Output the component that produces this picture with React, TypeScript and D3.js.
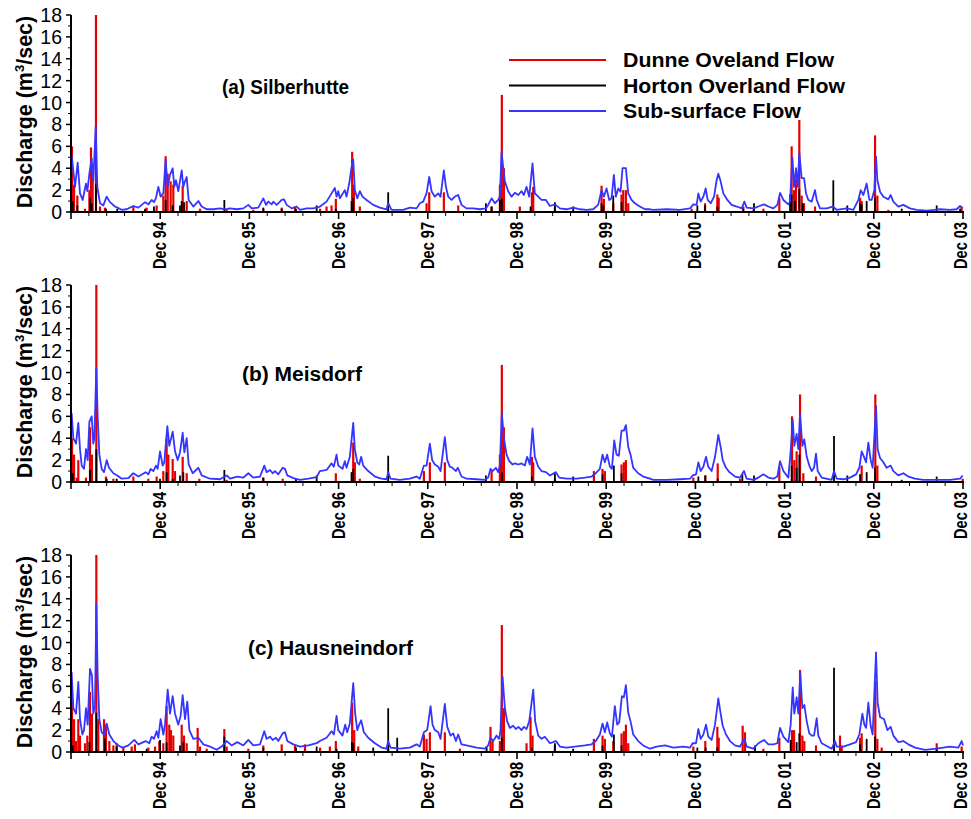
import React from 'react';
import * as d3 from 'd3';

// time axis: years after Dec 93 (1 = Dec 94 ... 10 = Dec 03), values in m3/sec
const yearLabels = ['Dec 94', 'Dec 95', 'Dec 96', 'Dec 97', 'Dec 98', 'Dec 99', 'Dec 00', 'Dec 01', 'Dec 02', 'Dec 03'];
const yTicks = [0, 2, 4, 6, 8, 10, 12, 14, 16, 18];
const seriesNames = ['Dunne Oveland Flow', 'Horton Overland Flow', 'Sub-surface Flow'];
const panelTitles = ['(a) Silberhutte', '(b) Meisdorf', '(c) Hausneindorf'];

const subA = [[0.007,5.2],[0.045,2.3],[0.075,4.5],[0.101,1.7],[0.131,1.1],[0.168,2.6],[0.183,1.9],[0.206,3.5],[0.232,4.9],[0.250,2.8],[0.277,7.8],[0.295,2.3],[0.325,0.8],[0.362,0.6],[0.400,1.4],[0.437,0.9],[0.493,0.5],[0.519,0.4],[0.568,0.2],[0.624,0.25],[0.699,0.55],[0.755,0.4],[0.830,0.9],[0.867,0.7],[0.904,1.1],[0.930,0.9],[0.953,1.3],[0.979,2.3],[1.005,1.4],[1.035,1.7],[1.061,4.8],[1.084,2.3],[1.110,3.4],[1.140,4.0],[1.158,2.3],[1.177,2.9],[1.203,1.9],[1.241,3.8],[1.259,2.3],[1.278,2.8],[1.297,3.2],[1.319,1.1],[1.371,0.5],[1.428,1.0],[1.465,0.5],[1.521,0.25],[1.596,0.25],[1.670,0.33],[1.726,0.25],[1.783,0.33],[1.857,0.25],[1.932,0.33],[1.988,0.65],[2.025,0.33],[2.100,0.4],[2.156,1.25],[2.186,0.65],[2.212,0.95],[2.250,0.7],[2.268,0.95],[2.306,0.65],[2.362,1.1],[2.388,1.15],[2.418,0.65],[2.474,0.33],[2.530,0.5],[2.567,0.2],[2.642,0.33],[2.717,0.33],[2.792,0.5],
  [2.865,0.95],[2.921,1.7],[2.958,2.2],[2.977,1.4],[2.996,1.9],[3.014,1.25],[3.070,2.0],[3.089,1.4],[3.119,2.6],[3.145,4.1],[3.164,4.8],[3.182,2.0],[3.209,1.25],[3.238,1.9],[3.268,1.4],[3.313,1.1],[3.388,0.65],[3.463,0.4],[3.537,0.25],[3.556,0.8],[3.593,0.2],[3.724,0.2],[3.799,0.4],[3.874,0.33],[3.911,0.8],[3.948,0.95],[3.986,1.7],[4.016,3.2],[4.042,1.9],[4.079,1.4],[4.117,1.7],[4.143,1.4],[4.180,3.8],[4.203,2.3],[4.229,1.4],[4.266,1.1],[4.303,1.4],[4.341,1.55],[4.378,0.65],[4.434,0.33],[4.509,0.33],[4.584,0.25],[4.651,0.33],[4.677,0.65],[4.715,1.25],[4.752,0.8],[4.789,1.1],[4.808,1.4],[4.827,5.5],[4.845,4.1],[4.864,2.8],[4.901,1.9],[4.939,1.4],[4.976,1.75],[5.014,1.55],[5.051,1.9],[5.077,1.55],[5.107,2.3],[5.137,1.4],[5.174,4.45],[5.200,1.7],[5.238,1.4],[5.275,1.1],[5.324,1.1],[5.369,0.55],[5.425,0.7],[5.481,0.33],[5.555,0.25],[5.630,0.4],[5.705,0.25],[5.780,0.2],[5.854,0.25],[5.910,0.65],[5.948,2.0],[5.974,1.4],[6.004,2.15],[6.034,1.1],[6.060,1.25],[6.086,3.4],[6.108,1.4],[6.135,2.15],[6.161,1.85],[6.183,4.0],[6.221,4.0],[6.247,1.7],[6.284,1.1],[6.321,0.8],[6.377,0.5],[6.434,0.25],[6.490,0.25],
  [6.528,0.2],[6.678,0.25],[6.827,0.2],[6.940,0.33],[6.977,0.7],[7.014,0.65],[7.033,1.7],[7.059,0.95],[7.089,1.4],[7.115,2.15],[7.138,1.1],[7.171,0.8],[7.209,1.4],[7.238,2.9],[7.257,3.5],[7.283,2.8],[7.313,1.7],[7.358,1.1],[7.407,0.65],[7.463,0.5],[7.519,0.33],[7.549,0.95],[7.575,0.4],[7.650,0.33],[7.706,0.5],[7.769,0.7],[7.818,0.5],[7.874,0.33],[7.919,0.65],[7.949,1.75],[7.986,1.1],[8.042,0.7],[8.061,0.95],[8.087,5.0],[8.106,2.3],[8.128,4.0],[8.147,2.3],[8.165,5.4],[8.191,3.1],[8.218,3.1],[8.240,1.7],[8.266,1.1],[8.304,0.95],[8.341,2.0],[8.360,1.1],[8.397,0.33],[8.472,0.33],[8.539,0.5],[8.584,0.2],[8.696,0.33],[8.771,0.2],[8.827,1.1],[8.853,2.0],[8.883,1.55],[8.920,2.6],[8.950,1.1],[8.976,1.1],[9.006,2.0],[9.025,5.06],[9.040,2.9],[9.070,1.85],[9.107,1.4],[9.163,1.15],[9.189,1.55],[9.219,0.95],[9.275,0.5],[9.331,0.65],[9.406,0.33],[9.481,0.2],[9.593,0.12],[9.686,0.2],[9.742,0.25],[9.854,0.2],[9.929,0.25],[9.967,0.55],[9.996,0.33]];

const dunneA = [[0.011,6.0],[0.034,2.5],[0.071,1.5],[0.157,0.3],[0.206,2.0],[0.224,5.9],[0.243,3.2],[0.280,18],[0.325,0.5],[0.381,0.4],[0.699,0.5],[0.848,0.4],[0.960,0.6],[1.035,1.5],[1.061,5.1],[1.084,3.5],[1.117,2.8],[1.147,2.5],[1.252,2.4],[1.297,1.0],[1.446,0.3],[1.745,0.2],[2.044,0.2],[2.156,0.3],[2.362,0.4],[2.511,0.5],[2.792,0.3],
  [2.865,0.5],[2.921,0.6],[2.969,1.2],[3.152,5.5],[3.171,2.5],[3.238,0.5],[3.556,0.2],[3.986,0.8],[4.016,1.8],[4.180,1.8],[4.341,0.6],[4.715,0.5],[4.808,2.5],[4.830,10.7],[4.853,4.0],[5.032,0.5],[5.167,1.8],[5.182,2.3],[5.425,0.4],[5.948,2.4],[5.974,1.2],[6.079,0.8],[6.172,1.6],[6.191,2.0],[6.221,2.0],[6.247,0.8],
  [6.958,0.3],[7.108,0.8],[7.246,1.6],[7.261,1.3],[7.537,0.5],[7.650,0.2],[7.762,0.3],[7.941,1.3],[8.079,6.0],[8.106,2.0],[8.128,3.0],[8.165,8.4],[8.191,1.5],[8.218,0.8],[8.341,0.5],[8.846,1.3],[8.864,1.0],[9.014,7.0],[9.040,1.5],[9.163,0.2],[9.985,0.5]];

const hortonA = [[0.019,1.0],[0.071,0.6],[0.213,1.3],[0.232,0.8],[0.280,2.6],[0.392,0.3],[0.519,0.3],[0.830,0.3],[0.930,0.5],[1.061,1.1],[1.140,0.6],[1.222,0.6],[1.241,1.0],[1.267,0.9],[1.719,1.1],[2.156,0.4],[2.362,0.3],[2.522,0.3],[2.754,0.6],
  [2.969,0.3],[3.145,1.0],[3.164,1.3],[3.556,1.8],[4.651,0.8],[4.715,0.5],[4.808,1.1],[4.830,1.2],[5.152,0.5],[5.425,0.9],[5.630,0.5],[5.948,0.8],[5.967,0.6],[6.079,1.5],[6.172,0.9],
  [7.022,0.6],[7.108,0.6],[7.246,0.5],[7.537,0.3],[7.657,0.8],[8.061,1.6],[8.079,1.6],[8.117,1.0],[8.165,2.1],[8.203,0.8],[8.546,2.9],[8.703,0.6],[8.846,0.8],[8.864,0.7],[8.920,1.0],[9.014,1.3],[9.313,0.3],[9.705,0.6],[9.967,0.3]];

const subB = [[0.007,6.3],[0.026,4.0],[0.056,3.5],[0.082,5.4],[0.101,3.0],[0.120,1.5],[0.146,1.2],[0.168,3.0],[0.187,2.0],[0.206,5.5],[0.232,6.0],[0.250,3.5],[0.262,4.0],[0.284,10.4],[0.299,6.0],[0.318,2.5],[0.344,1.2],[0.370,0.9],[0.400,2.0],[0.426,1.3],[0.475,0.8],[0.519,0.6],[0.568,0.3],[0.643,0.35],[0.699,0.8],[0.755,0.5],[0.837,0.9],[0.867,0.7],[0.893,1.2],[0.923,1.0],[0.953,1.5],[0.972,1.2],[0.998,2.8],[1.028,1.5],[1.046,1.8],[1.080,5.1],[1.102,3.3],[1.140,4.6],[1.166,2.8],[1.196,2.0],[1.222,2.7],[1.252,4.5],[1.271,2.7],[1.297,4.0],[1.319,1.6],[1.364,0.8],[1.428,1.3],[1.465,0.6],[1.558,0.3],[1.670,0.25],[1.745,0.6],[1.783,0.3],[1.865,0.5],[1.932,0.4],[1.988,0.8],[2.044,0.4],[2.119,0.5],[2.167,1.5],[2.193,0.9],[2.231,1.1],[2.261,0.8],[2.287,1.0],[2.324,0.7],[2.373,1.3],[2.399,1.2],[2.425,0.6],[2.493,0.35],[2.567,0.2],[2.661,0.3],[2.754,0.45],
  [2.79,1.0],[2.865,1.1],[2.921,1.7],[2.947,1.4],[2.977,2.5],[2.996,1.5],[3.044,1.2],[3.070,1.9],[3.089,1.3],[3.126,2.3],[3.164,5.4],[3.182,3.0],[3.209,1.8],[3.231,1.6],[3.253,2.3],[3.276,1.5],[3.332,1.0],[3.407,0.5],[3.481,0.3],[3.537,0.25],[3.556,0.9],[3.582,0.3],[3.687,0.2],[3.799,0.3],[3.874,0.5],[3.911,0.3],[3.956,1.5],[3.986,1.5],[4.023,3.5],[4.049,2.0],[4.079,1.6],[4.117,1.4],[4.143,1.0],[4.191,4.1],[4.218,2.0],[4.247,1.4],[4.277,1.3],[4.315,1.0],[4.337,1.3],[4.378,0.5],[4.434,0.3],[4.546,0.25],[4.640,0.2],[4.677,0.4],[4.703,1.2],[4.726,1.0],[4.763,1.3],[4.789,0.9],[4.808,1.5],[4.830,6.3],[4.853,4.0],[4.883,2.5],[4.913,1.9],[4.950,1.6],[4.976,1.7],[5.014,1.6],[5.051,1.7],[5.088,1.5],[5.114,2.3],[5.144,1.6],[5.174,4.9],[5.200,2.3],[5.238,1.4],[5.275,1.0],[5.324,0.9],[5.369,0.6],[5.436,0.9],[5.473,0.4],[5.555,0.3],[5.668,0.3],[5.761,0.4],[5.836,0.5],[5.884,0.8],[5.929,1.2],[5.959,2.5],[5.985,1.8],[6.011,2.5],[6.041,1.4],[6.064,1.2],[6.090,3.8],[6.116,2.5],[6.142,2.4],[6.172,4.7],[6.198,4.7],[6.221,5.2],[6.247,3.2],[6.273,2.5],[6.303,1.3],[6.359,0.8],[6.415,0.5],[6.490,0.3],
  [6.528,0.2],[6.678,0.2],[6.827,0.25],[6.940,0.3],[6.969,0.6],[7.007,0.7],[7.033,1.8],[7.059,1.0],[7.089,1.4],[7.119,2.3],[7.145,1.4],[7.182,1.0],[7.220,2.3],[7.257,4.3],[7.283,3.2],[7.306,2.0],[7.343,1.3],[7.381,0.9],[7.444,0.5],[7.500,0.4],[7.545,1.0],[7.575,0.3],[7.650,0.2],[7.706,0.4],[7.762,0.7],[7.818,0.4],[7.874,0.3],[7.919,0.5],[7.949,1.9],[7.986,1.0],[8.042,0.4],[8.068,2.8],[8.091,5.7],[8.109,3.3],[8.135,4.4],[8.154,3.0],[8.173,6.2],[8.199,3.3],[8.221,3.9],[8.248,2.3],[8.277,1.5],[8.304,1.0],[8.330,1.3],[8.352,2.6],[8.371,1.0],[8.416,0.4],[8.528,0.2],[8.554,1.0],[8.584,0.3],[8.659,0.25],[8.733,0.4],[8.801,0.7],[8.838,1.3],[8.864,2.8],[8.890,2.3],[8.913,1.8],[8.939,3.6],[8.965,2.0],[8.987,1.3],[9.025,6.95],[9.043,3.0],[9.070,2.2],[9.107,1.8],[9.144,1.3],[9.189,1.5],[9.219,1.0],[9.275,0.6],[9.331,0.8],[9.387,0.5],[9.462,0.3],[9.556,0.2],[9.705,0.2],[9.854,0.2],[9.967,0.3],[9.996,0.6]];

const dunneB = [[0.011,4.0],[0.034,2.5],[0.064,0.4],[0.082,2.0],[0.168,0.4],[0.213,5.0],[0.235,2.5],[0.284,18],[0.392,0.5],[0.475,0.3],[0.699,0.5],[0.867,0.3],[0.960,0.5],[1.035,1.0],[1.072,4.0],[1.091,2.5],[1.140,2.1],[1.166,1.0],[1.252,2.3],[1.297,0.8],[1.439,0.3],[1.745,0.2],[2.156,0.4],[2.373,0.3],
  [2.969,0.8],[3.164,3.6],[3.182,1.8],[3.238,0.3],[3.956,1.0],[4.023,1.8],[4.191,1.8],[4.715,1.0],[4.808,2.5],[4.830,10.7],[4.853,5.0],[5.167,2.3],[5.182,1.8],[5.425,0.3],[5.862,1.0],[5.959,1.2],[5.985,1.0],[6.172,1.6],[6.198,1.8],[6.221,2.0],
  [6.977,0.4],[7.111,0.6],[7.250,1.7],[7.500,0.3],[7.941,1.4],[8.083,6.0],[8.109,2.0],[8.135,2.8],[8.173,8.0],[8.210,0.8],[8.352,0.5],[8.864,1.5],[9.017,8.0],[9.040,1.5],[9.996,0.3]];

const hortonB = [[0.019,0.8],[0.213,1.1],[0.284,3.0],[0.400,0.3],[0.512,0.3],[0.998,0.3],[1.072,0.9],[1.140,0.3],[1.222,0.6],[1.259,0.9],[1.719,1.1],[2.156,0.4],[2.522,0.3],[2.754,0.6],
  [3.145,0.9],[3.164,1.2],[3.556,2.4],[4.651,0.6],[4.830,0.9],[5.167,0.5],[5.425,0.8],[5.630,0.5],[5.959,0.7],[6.086,1.5],[6.172,0.8],
  [7.033,0.5],[7.111,0.6],[7.250,0.3],[7.526,0.7],[7.657,0.6],[8.079,1.5],[8.135,1.3],[8.165,2.5],[8.554,4.2],[8.703,0.6],[8.846,0.7],[8.920,0.9],[9.014,1.3],[9.313,0.2],[9.705,0.5]];

const subC = [[0.007,7.3],[0.026,4.0],[0.056,3.5],[0.082,6.4],[0.101,3.0],[0.127,1.6],[0.146,2.0],[0.168,4.0],[0.187,2.5],[0.213,7.6],[0.235,7.0],[0.250,3.5],[0.269,4.2],[0.284,13.5],[0.299,7.0],[0.318,3.0],[0.344,1.8],[0.370,1.6],[0.400,2.6],[0.430,1.6],[0.475,1.0],[0.531,0.6],[0.579,0.4],[0.643,0.6],[0.710,1.1],[0.755,0.7],[0.837,1.0],[0.878,0.8],[0.904,1.4],[0.930,1.2],[0.960,1.9],[0.979,1.3],[1.005,3.0],[1.035,1.6],[1.054,2.5],[1.084,5.7],[1.110,3.5],[1.140,5.1],[1.166,3.5],[1.203,2.5],[1.229,3.3],[1.252,5.2],[1.278,3.0],[1.304,4.6],[1.327,2.0],[1.371,1.2],[1.428,1.3],[1.484,0.7],[1.558,0.5],[1.633,0.2],[1.689,0.5],[1.745,1.0],[1.801,0.6],[1.865,0.9],[1.932,0.6],[1.988,1.1],[2.044,0.6],[2.119,0.7],[2.167,1.9],[2.193,1.2],[2.231,1.4],[2.261,1.1],[2.298,1.3],[2.324,1.0],[2.373,1.7],[2.399,1.8],[2.425,1.0],[2.493,0.7],[2.567,0.5],[2.661,0.6],[2.754,0.8],
  [2.79,1.0],[2.865,1.3],[2.921,1.9],[2.947,1.6],[2.977,3.3],[2.996,2.0],[3.044,1.5],[3.074,2.5],[3.096,1.8],[3.126,2.6],[3.164,6.3],[3.186,3.5],[3.209,2.0],[3.231,2.5],[3.253,2.9],[3.283,1.8],[3.332,1.3],[3.407,0.8],[3.481,0.4],[3.537,0.3],[3.556,1.0],[3.582,0.4],[3.687,0.3],[3.799,0.4],[3.874,0.7],[3.911,0.5],[3.956,1.8],[3.993,2.0],[4.031,4.2],[4.053,2.5],[4.079,2.0],[4.117,1.8],[4.143,1.2],[4.191,4.4],[4.218,2.3],[4.255,1.5],[4.285,1.7],[4.315,1.0],[4.341,1.6],[4.378,0.7],[4.434,0.6],[4.546,0.4],[4.640,0.3],[4.677,0.6],[4.703,1.3],[4.733,1.0],[4.771,1.5],[4.800,1.2],[4.815,2.0],[4.838,6.9],[4.864,4.0],[4.890,2.8],[4.920,2.2],[4.957,2.4],[4.987,2.1],[5.017,2.3],[5.051,2.0],[5.077,2.3],[5.107,2.1],[5.137,2.8],[5.182,5.7],[5.204,2.8],[5.238,1.5],[5.275,1.2],[5.312,1.4],[5.369,0.8],[5.436,1.0],[5.481,0.5],[5.555,0.4],[5.649,0.5],[5.761,0.6],[5.836,0.7],[5.884,1.0],[5.929,1.6],[5.959,2.6],[5.985,1.8],[6.011,2.7],[6.041,1.7],[6.064,1.4],[6.097,4.2],[6.123,2.5],[6.146,2.7],[6.176,5.1],[6.198,5.0],[6.221,6.1],[6.247,3.6],[6.273,2.8],[6.303,1.6],[6.359,1.0],[6.415,0.6],[6.490,0.3],
  [6.528,0.4],[6.566,0.5],[6.659,0.6],[6.753,0.4],[6.865,0.5],[6.940,0.4],[6.969,0.8],[7.007,0.8],[7.033,2.1],[7.059,1.2],[7.089,1.6],[7.119,2.5],[7.145,1.4],[7.182,1.1],[7.220,2.5],[7.257,4.9],[7.283,3.5],[7.306,2.4],[7.343,1.6],[7.388,1.0],[7.444,0.6],[7.500,0.5],[7.549,1.2],[7.575,0.5],[7.650,0.3],[7.706,0.8],[7.769,1.1],[7.818,0.7],[7.874,0.7],[7.919,0.8],[7.949,2.2],[7.986,1.4],[8.042,0.9],[8.068,2.5],[8.091,5.9],[8.109,3.5],[8.135,5.0],[8.154,3.5],[8.176,7.2],[8.199,4.0],[8.221,4.3],[8.248,2.8],[8.277,1.7],[8.304,1.5],[8.330,1.5],[8.360,3.1],[8.378,1.5],[8.416,0.8],[8.528,0.3],[8.565,1.0],[8.584,0.5],[8.659,0.5],[8.733,0.7],[8.801,0.9],[8.838,1.6],[8.872,3.5],[8.894,2.5],[8.913,2.2],[8.939,4.5],[8.965,2.4],[8.987,1.6],[9.025,9.1],[9.043,4.5],[9.070,3.2],[9.115,3.0],[9.152,2.0],[9.189,2.3],[9.219,1.5],[9.275,0.9],[9.331,1.0],[9.387,0.7],[9.462,0.4],[9.574,0.2],[9.705,0.3],[9.780,0.4],[9.854,0.5],[9.948,0.4],[9.985,1.0],[10.0,0.6]];

const dunneC = [[0.011,5.0],[0.034,3.0],[0.056,1.0],[0.082,3.0],[0.101,1.5],[0.157,0.8],[0.183,1.5],[0.213,5.5],[0.235,3.5],[0.284,18],[0.306,3.0],[0.370,3.0],[0.392,2.5],[0.430,1.0],[0.475,0.6],[0.512,0.8],[0.587,0.4],[0.680,0.5],[0.717,0.7],[0.867,0.4],[0.942,0.5],[0.990,1.0],[1.035,0.8],[1.072,4.2],[1.102,2.5],[1.121,2.0],[1.147,1.5],[1.241,2.5],[1.267,1.5],[1.297,0.8],[1.420,2.2],[1.446,0.5],[1.521,0.3],[1.719,2.1],[1.745,0.5],[1.988,0.3],[2.156,0.6],[2.362,0.7],[2.511,0.6],[2.623,0.7],[2.792,0.4],
  [2.902,0.5],[2.969,1.0],[3.152,4.5],[3.175,2.0],[3.220,0.5],[3.556,0.3],[3.956,1.6],[3.986,1.2],[4.023,1.8],[4.191,1.8],[4.360,0.3],[4.703,2.3],[4.726,1.0],[4.808,1.0],[4.830,11.6],[4.853,4.0],[5.107,0.8],[5.152,3.2],[5.174,1.5],[5.425,0.6],[5.862,1.2],[5.959,1.5],[5.985,1.2],[6.079,1.0],[6.172,1.7],[6.198,1.9],[6.221,2.5],[6.247,0.8],
  [6.977,0.5],[7.111,1.0],[7.246,2.3],[7.261,1.3],[7.530,2.4],[7.556,1.8],[7.762,0.3],[7.941,1.3],[8.083,2.0],[8.106,2.0],[8.173,7.5],[8.199,1.5],[8.221,1.0],[8.352,0.6],[8.621,1.5],[8.640,0.6],[8.846,1.3],[8.864,1.7],[9.017,6.5],[9.040,1.2],[9.088,0.4],[9.705,0.8],[9.985,0.5]];

const hortonC = [[0.019,0.6],[0.206,0.9],[0.284,3.6],[0.381,1.2],[0.512,0.5],[0.848,0.3],[0.998,1.1],[1.072,0.9],[1.222,0.6],[1.259,0.9],[1.719,1.4],[2.156,0.4],[2.522,0.4],[2.754,0.5],
  [2.977,0.3],[3.149,0.9],[3.164,0.8],[3.388,0.4],[3.556,4.0],[3.657,1.3],[4.659,0.5],[4.830,1.3],[5.167,0.4],[5.425,0.8],[5.630,0.3],[5.959,0.6],[6.086,1.6],[6.172,0.6],
  [7.022,0.4],[7.115,0.4],[7.246,0.4],[7.668,0.6],[8.068,1.1],[8.135,0.9],[8.165,1.7],[8.554,7.7],[8.846,0.7],[8.920,1.2],[9.014,1.4],[9.313,0.3],[9.705,0.3]];

const COLORS = { dunne: '#e40000', horton: '#000000', sub: '#3535ff' };
const FONT = '"Liberation Sans", Arial, Helvetica, sans-serif';

const panels = [
    { title: panelTitles[0], top: 15, sub: subA, dunne: dunneA, horton: hortonA, titleX: 222, titleY: 94, titleLen: 127 },
    { title: panelTitles[1], top: 285, sub: subB, dunne: dunneB, horton: hortonB, titleX: 242, titleY: 381, titleLen: 120 },
    { title: panelTitles[2], top: 555, sub: subC, dunne: dunneC, horton: hortonC, titleX: 248, titleY: 655, titleLen: 165 },
];
const legendLens = [211, 222, 178];

const PLOT_H = 197;
const x = d3.scaleLinear().domain([0, 10]).range([71, 963]);
const minorX = d3.range(0, 50).map((i) => i * 0.2).filter((v) => Math.abs(v - Math.round(v)) > 0.01);
const majorX = d3.range(0, 11);

function Panel({ p, showLegend })
{
    const y = d3.scaleLinear().domain([0, 18]).range([p.top + PLOT_H, p.top]);
    const y0 = y(0);
    const line = d3.line().x((d) => x(d[0])).y((d) => y(d[1]));

    return (
        <g>
            {p.dunne.map((d, i) => (
                <line key={'r' + i} x1={x(d[0])} x2={x(d[0])} y1={y0} y2={y(d[1])} stroke={COLORS.dunne} strokeWidth={2.2} />
            ))}
            {p.horton.map((d, i) => (
                <line key={'k' + i} x1={x(d[0])} x2={x(d[0])} y1={y0} y2={y(d[1])} stroke={COLORS.horton} strokeWidth={1.8} />
            ))}
            <path d={line(p.sub)} fill="none" stroke={COLORS.sub} strokeWidth={1.8} strokeLinejoin="round" />

            {/* axes */}
            <line x1={x(0)} x2={x(0)} y1={p.top} y2={y0 + 1} stroke="#000" strokeWidth={2} />
            <line x1={x(0) - 1} x2={x(10) + 1} y1={y0} y2={y0} stroke="#000" strokeWidth={2} />
            {d3.range(1, 18, 2).map((v) => (
                <line key={'ym' + v} x1={x(0) - 3} x2={x(0)} y1={y(v)} y2={y(v)} stroke="#000" strokeWidth={1} />
            ))}
            {yTicks.map((v) => (
                <g key={'y' + v}>
                    <line x1={x(0) - 5} x2={x(0)} y1={y(v)} y2={y(v)} stroke="#000" strokeWidth={1.5} />
                    <text x={62} y={y(v) + 7} textAnchor="end" fontFamily={FONT} fontSize={19.5}>{v}</text>
                </g>
            ))}
            {minorX.map((t) => (
                <line key={'xm' + t} x1={x(t)} x2={x(t)} y1={y0} y2={y0 + 4} stroke="#000" strokeWidth={1} />
            ))}
            {majorX.map((t) => (
                <line key={'xM' + t} x1={x(t)} x2={x(t)} y1={y0} y2={y0 + 7} stroke="#000" strokeWidth={1.6} />
            ))}
            {yearLabels.map((lab, i) => (
                <text key={lab} transform={`translate(${ Math.min(x(i + 1) + 6, 967) },${ y0 + 10 }) rotate(-90)`} textAnchor="end"
                    fontFamily={FONT} fontWeight="bold" fontSize={17.5} textLength={47} lengthAdjust="spacingAndGlyphs">{lab}</text>
            ))}

            <text transform={`translate(32,${ p.top + 97 }) rotate(-90)`} textAnchor="middle" fontFamily={FONT}
                fontWeight="bold" fontSize={21.5}>
                Discharge (m<tspan fontSize={13} dy={-8}>3</tspan><tspan dy={8}>/sec)</tspan>
            </text>

            <text x={p.titleX} y={p.titleY} fontFamily={FONT} fontWeight="bold" fontSize={20}
                textLength={p.titleLen} lengthAdjust="spacingAndGlyphs">{p.title}</text>

            {showLegend && [COLORS.dunne, COLORS.horton, COLORS.sub].map((c, i) => (
                <g key={'lg' + i}>
                    <line x1={509} x2={606} y1={60 + i * 25.5} y2={60 + i * 25.5} stroke={c} strokeWidth={1.8} />
                    <text x={623} y={67 + i * 25.5} fontFamily={FONT} fontWeight="bold" fontSize={20}
                        textLength={legendLens[i]} lengthAdjust="spacingAndGlyphs">{seriesNames[i]}</text>
                </g>
            ))}
        </g>
    );
}

export default function App()
{
    return (
        <svg width={971} height={819} style={{ position: 'absolute', left: 0, top: 0, background: '#fff' }}>
            <rect width={971} height={819} fill="#fff" />
            {panels.map((p, i) => <Panel key={i} p={p} showLegend={i === 0} />)}
        </svg>
    );
}
